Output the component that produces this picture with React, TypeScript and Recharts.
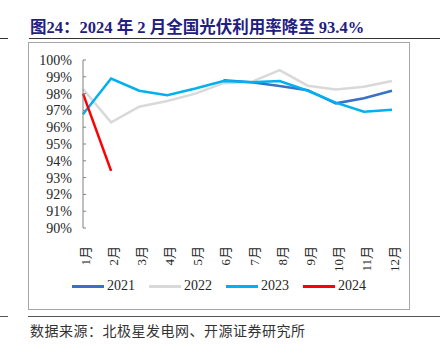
import React from 'react';
import { LineChart, Line, XAxis, YAxis, Legend } from 'recharts';

const months = ['1月', '2月', '3月', '4月', '5月', '6月', '7月', '8月', '9月', '10月', '11月', '12月'];
const y2021 = [null, null, null, null, null, 98.8, 98.67, 98.45, 98.2, 97.42, 97.72, 98.17];
const y2022 = [98.27, 96.29, 97.22, 97.56, 98.0, 98.62, 98.7, 99.4, 98.47, 98.25, 98.41, 98.75];
const y2023 = [96.77, 98.9, 98.17, 97.9, 98.3, 98.75, 98.67, 98.75, 98.17, 97.46, 96.92, 97.04];
const y2024 = [98.0, 93.4, null, null, null, null, null, null, null, null, null, null];
const yTicks = [90, 91, 92, 93, 94, 95, 96, 97, 98, 99, 100];
const edgeTicks = [0, 1, 2, 3, 4, 5, 6, 7, 8, 9, 10, 11, 12];

const data = months.map((m, i) => ({
  month: m,
  pos: i + 0.5,
  y2021: y2021[i],
  y2022: y2022[i],
  y2023: y2023[i],
  y2024: y2024[i],
}));

const serif = "'Times New Roman', 'Liberation Serif', 'Noto Sans CJK SC', serif";

const MonthTick = (props: any) => {
  const { x, y, payload } = props;
  return (
    <text
      x={0}
      y={0}
      transform={`translate(${x + 7},${y + 10}) rotate(-90)`}
      textAnchor="end"
      fontSize={13}
      fontFamily={serif}
      fill="#262626"
    >
      {payload.value}
    </text>
  );
};

const renderLegend = (props: any) => {
  const { payload } = props;
  return (
    <div style={{ display: 'flex', justifyContent: 'center', alignItems: 'center', fontFamily: serif, fontSize: 14, color: '#262626' }}>
      {payload.map((p: any) => (
        <span key={p.value} style={{ display: 'flex', alignItems: 'center', margin: '0 7px' }}>
          <span style={{ display: 'inline-block', width: 32, height: 3, background: p.color, marginRight: 3 }} />
          {p.value}
        </span>
      ))}
    </div>
  );
};

export default function App() {
  return (
    <div style={{ position: 'absolute', left: 0, top: 0, width: 446, height: 352, background: '#fff' }}>
      <div
        style={{
          position: 'absolute',
          left: 30,
          top: 14,
          fontFamily: serif,
          fontWeight: 'bold',
          fontSize: 16.5,
          color: '#1f2080',
          whiteSpace: 'nowrap',
        }}
      >
        图24：2024 年 2 月全国光伏利用率降至 93.4%
      </div>
      <div style={{ position: 'absolute', left: 0, top: 38, width: 8, height: 1, background: '#333' }} />
      <div style={{ position: 'absolute', left: 29, top: 38, width: 411, height: 1, background: '#333' }} />
      <div
        style={{
          position: 'absolute',
          left: 28,
          top: 42,
          width: 382,
          height: 268,
          boxSizing: 'border-box',
          border: '1px solid #a6a6a6',
        }}
      />
      <div style={{ position: 'absolute', left: 28, top: 42 }}>
        <LineChart width={382} height={268} data={data} margin={{ top: 18, right: 18, left: 0, bottom: 12 }}>
          <XAxis
            xAxisId="edge"
            dataKey="pos"
            type="number"
            domain={[0, 12]}
            ticks={edgeTicks}
            height={0}
            tick={() => <g />}
            tickSize={-4}
            tickLine={{ stroke: '#808080' }}
            axisLine={{ stroke: '#808080' }}
          />
          <XAxis
            xAxisId="cat"
            dataKey="month"
            height={50}
            interval={0}
            tickLine={false}
            axisLine={false}
            tick={<MonthTick />}
          />
          <YAxis
            width={55}
            domain={[90, 100]}
            ticks={yTicks}
            interval={0}
            tickSize={-3}
            tickMargin={14}
            tickFormatter={(v) => `${v}%`}
            tick={{ fill: '#262626', fontSize: 14, fontFamily: serif }}
            tickLine={{ stroke: '#808080' }}
            axisLine={{ stroke: '#808080' }}
          />
          <Legend verticalAlign="bottom" height={20} content={renderLegend} wrapperStyle={{ left: 0, width: 382 }} />
          <Line xAxisId="cat" dataKey="y2021" name="2021" stroke="#3a70c6" strokeWidth={2.5} dot={false} isAnimationActive={false} />
          <Line xAxisId="cat" dataKey="y2022" name="2022" stroke="#d9d9d9" strokeWidth={2.5} dot={false} isAnimationActive={false} />
          <Line xAxisId="cat" dataKey="y2023" name="2023" stroke="#00b0f0" strokeWidth={2.5} dot={false} isAnimationActive={false} />
          <Line xAxisId="cat" dataKey="y2024" name="2024" stroke="#ff0000" strokeWidth={2.5} dot={false} isAnimationActive={false} />
        </LineChart>
      </div>
      <div style={{ position: 'absolute', left: 0, top: 316, width: 8, height: 1, background: '#555' }} />
      <div style={{ position: 'absolute', left: 28, top: 316, width: 412, height: 1, background: '#555' }} />
      <div
        style={{
          position: 'absolute',
          left: 30,
          top: 320,
          fontFamily: "'Noto Sans CJK SC', sans-serif",
          fontSize: 14,
          letterSpacing: 0.5,
          color: '#333',
          whiteSpace: 'nowrap',
        }}
      >
        数据来源：北极星发电网、开源证券研究所
      </div>
    </div>
  );
}
